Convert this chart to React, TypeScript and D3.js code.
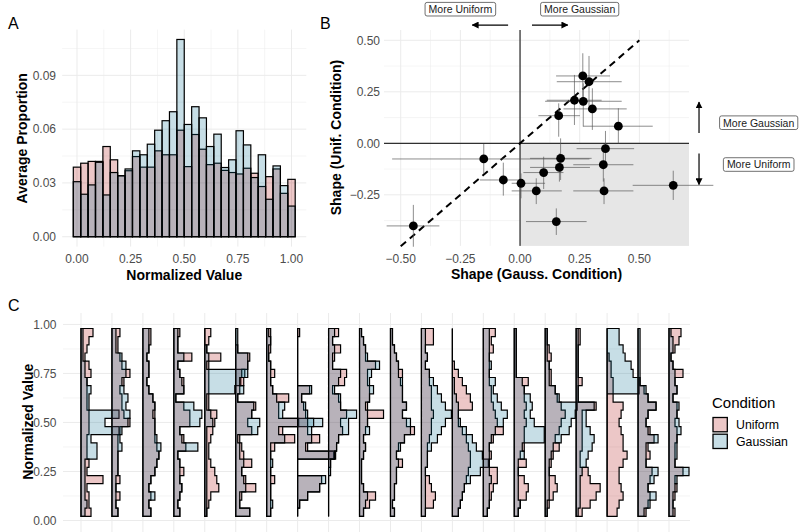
import React from "react";
import * as d3 from "d3";

const FONT = "'Liberation Sans', Arial, Helvetica, sans-serif";

// ---- Panel A: pooled histogram (30 bins centred on 0, 1/29, ..., 1)
const binsA = d3.range(30).map((i) => i / 29);
const uniformA = [
  0.0388, 0.041, 0.042, 0.042, 0.0503, 0.0429, 0.034, 0.0368, 0.0447, 0.0388,
  0.0388, 0.0479, 0.0457, 0.0457, 0.0594, 0.0391, 0.057, 0.0488, 0.0402, 0.041,
  0.037, 0.0358, 0.035, 0.0382, 0.0354, 0.028, 0.0335, 0.0378, 0.0242, 0.032,
];
const gaussianA = [
  0.0307, 0.0237, 0.0289, 0.0415, 0.0233, 0.0358, 0.034, 0.0378, 0.0479, 0.0457,
  0.0516, 0.0594, 0.0647, 0.0697, 0.11, 0.0626, 0.0725, 0.0663, 0.0503, 0.0572,
  0.0386, 0.0429, 0.0591, 0.0512, 0.033, 0.0457, 0.0209, 0.0395, 0.0285, 0.0171,
];

// ---- Panel B: shape estimates per participant with intervals
const gaussShape = [-0.447, -0.152, -0.07, 0.004, 0.068, 0.099, 0.165, 0.17, 0.152, 0.162, 0.228, 0.263, 0.289, 0.265, 0.303, 0.412, 0.358, 0.349, 0.352, 0.642];
const gaussLo = [-0.559, -0.536, -0.168, -0.035, -0.035, 0.014, 0.042, 0.042, 0.025, 0.077, 0.112, 0.151, 0.154, 0.105, 0.182, 0.265, 0.237, 0.223, 0.223, 0.472];
const gaussHi = [-0.338, 0.291, 0.014, 0.105, 0.175, 0.182, 0.293, 0.3, 0.279, 0.251, 0.342, 0.377, 0.426, 0.426, 0.447, 0.556, 0.478, 0.475, 0.475, 0.81];
const unifShape = [-0.401, -0.076, -0.178, -0.194, -0.231, -0.142, -0.117, -0.073, -0.38, 0.134, 0.209, 0.327, 0.299, 0.204, 0.167, 0.083, -0.026, -0.104, -0.231, -0.204];
const unifLo = [-0.502, -0.149, -0.254, -0.267, -0.295, -0.222, -0.186, -0.178, -0.445, 0.032, 0.089, 0.21, 0.178, 0.081, 0.065, 0.0, -0.113, -0.186, -0.295, -0.275];
const unifHi = [-0.299, -0.003, -0.094, -0.146, -0.17, -0.065, -0.049, 0.024, -0.316, 0.194, 0.332, 0.437, 0.424, 0.291, 0.267, 0.17, 0.06, -0.016, -0.17, -0.133];

const xTicksB = [-0.5, -0.25, 0, 0.25, 0.5];
const yTicksB = [-0.25, 0, 0.25, 0.5];

// ---- Panel C: per-participant counts; bins listed from top (23/24) to bottom (1/24)
const binsC = d3.range(23, 0, -1).map((k) => k / 24);
const uniformCounts = [
  [6, 4, 3, 2, 4, 5, 3, 3, 3, 3, 4, 4, 4, 3, 3, 3, 4, 3, 11, 3, 4, 4, 5],
  [4, 3, 3, 4, 5, 9, 6, 4, 5, 5, 6, 9, 4, 3, 3, 3, 3, 3, 4, 2, 4, 2, 3],
  [4, 4, 3, 2, 3, 3, 2, 3, 5, 6, 6, 6, 6, 6, 7, 8, 7, 6, 4, 3, 4, 3, 4],
  [3, 2, 2, 9, 2, 3, 5, 5, 1, 5, 8, 8, 3, 5, 6, 2, 3, 5, 3, 4, 3, 2, 3],
  [3, 2, 1, 8, 2, 2, 2, 2, 2, 2, 6, 5, 4, 3, 2, 2, 3, 5, 6, 7, 3, 2, 1],
  [0, 0, 1, 7, 6, 3, 4, 2, 1, 10, 8, 6, 8, 2, 3, 4, 8, 3, 5, 10, 3, 2, 7],
  [2, 2, 2, 1, 2, 4, 2, 3, 11, 6, 6, 16, 8, 14, 4, 2, 2, 2, 4, 2, 2, 2, 2],
  [1, 0, 0, 0, 0, 0, 0, 6, 2, 3, 4, 5, 5, 11, 5, 18, 0, 0, 12, 11, 5, 1, 0],
  [5, 2, 6, 3, 2, 9, 8, 2, 5, 6, 9, 6, 7, 5, 4, 3, 1, 0, 0, 0, 0, 0, 0],
  [1, 2, 3, 3, 8, 4, 4, 5, 5, 4, 12, 4, 3, 2, 3, 2, 1, 1, 1, 2, 8, 5, 2],
  [1, 1, 2, 3, 4, 6, 5, 6, 6, 8, 6, 8, 12, 7, 4, 3, 6, 3, 3, 2, 2, 1, 2],
  [6, 6, 2, 3, 2, 4, 4, 5, 5, 5, 6, 5, 5, 4, 3, 3, 3, 2, 4, 5, 7, 6, 2],
  [0, 0, 0, 0, 1, 3, 5, 7, 9, 10, 3, 3, 5, 7, 8, 9, 9, 8, 7, 6, 5, 4, 3],
  [6, 4, 5, 3, 3, 3, 3, 4, 4, 5, 6, 7, 10, 5, 3, 4, 3, 7, 7, 5, 4, 3, 2],
  [1, 1, 1, 1, 1, 1, 7, 5, 5, 6, 5, 6, 5, 5, 5, 3, 6, 2, 5, 7, 6, 3, 2],
  [1, 1, 2, 3, 2, 3, 3, 5, 6, 8, 10, 8, 7, 5, 7, 4, 3, 2, 5, 6, 4, 2, 1],
  [2, 2, 1, 1, 1, 1, 3, 1, 1, 10, 3, 3, 3, 3, 3, 2, 2, 6, 7, 12, 10, 7, 3],
  [0, 0, 0, 1, 2, 2, 3, 3, 3, 8, 7, 6, 7, 8, 8, 10, 8, 6, 6, 7, 8, 6, 5],
  [0, 0, 0, 0, 0, 0, 1, 3, 5, 9, 5, 4, 6, 8, 5, 6, 4, 7, 6, 5, 6, 5, 4],
  [6, 5, 3, 1, 2, 7, 3, 4, 2, 4, 4, 3, 4, 4, 3, 3, 3, 7, 3, 4, 3, 2, 3],
];
const gaussianCounts = [
  [1, 1, 1, 1, 2, 2, 3, 5, 4, 4, 19, 12, 19, 5, 8, 8, 2, 2, 2, 2, 2, 3, 2],
  [2, 2, 2, 5, 7, 7, 5, 6, 8, 7, 9, 8, 5, 4, 5, 3, 3, 3, 2, 2, 2, 2, 3],
  [3, 3, 3, 2, 3, 3, 2, 3, 5, 6, 5, 6, 6, 7, 9, 8, 7, 6, 4, 3, 6, 3, 4],
  [2, 2, 2, 5, 2, 3, 4, 5, 1, 10, 14, 13, 3, 4, 12, 2, 3, 3, 3, 4, 3, 2, 3],
  [0, 0, 1, 2, 1, 20, 18, 15, 1, 1, 3, 4, 1, 1, 1, 1, 1, 1, 1, 1, 1, 1, 1],
  [1, 1, 1, 6, 6, 6, 2, 4, 1, 9, 8, 12, 11, 1, 2, 2, 4, 3, 4, 5, 2, 2, 7],
  [1, 2, 1, 1, 2, 2, 2, 3, 5, 9, 8, 28, 6, 9, 2, 2, 3, 2, 2, 2, 2, 3, 2],
  [0, 0, 0, 0, 0, 0, 0, 7, 2, 4, 5, 8, 7, 7, 4, 19, 0, 0, 14, 11, 5, 1, 0],
  [3, 2, 3, 2, 2, 6, 5, 3, 6, 6, 14, 10, 10, 5, 4, 3, 1, 1, 0, 0, 0, 0, 0],
  [1, 2, 3, 4, 10, 6, 5, 7, 5, 3, 4, 4, 5, 2, 3, 2, 1, 1, 1, 2, 4, 3, 2],
  [1, 1, 2, 3, 4, 4, 6, 6, 6, 8, 6, 10, 10, 7, 5, 3, 4, 3, 3, 2, 2, 1, 2],
  [2, 2, 2, 3, 2, 4, 6, 8, 10, 12, 15, 12, 10, 8, 5, 3, 3, 2, 2, 2, 2, 2, 2],
  [0, 0, 0, 0, 0, 0, 1, 1, 2, 3, 3, 4, 7, 10, 12, 15, 18, 14, 9, 6, 5, 4, 3],
  [3, 3, 3, 3, 4, 3, 6, 5, 7, 9, 12, 10, 6, 4, 3, 3, 3, 3, 4, 3, 3, 3, 2],
  [1, 1, 1, 1, 1, 1, 4, 5, 8, 9, 8, 10, 15, 15, 4, 5, 2, 2, 2, 2, 2, 3, 2],
  [1, 1, 1, 1, 2, 2, 2, 5, 7, 16, 15, 13, 12, 8, 4, 3, 2, 2, 2, 2, 2, 1, 1],
  [1, 1, 1, 1, 1, 1, 1, 1, 1, 9, 5, 5, 7, 9, 8, 6, 5, 3, 2, 2, 2, 2, 1],
  [6, 6, 8, 9, 12, 13, 16, 16, 0, 0, 0, 0, 0, 0, 0, 0, 0, 0, 0, 0, 0, 0, 0],
  [1, 1, 1, 1, 1, 1, 1, 4, 5, 9, 5, 4, 5, 10, 4, 4, 4, 10, 8, 5, 9, 6, 3],
  [1, 2, 2, 1, 2, 3, 3, 4, 2, 5, 4, 5, 6, 4, 4, 4, 3, 10, 4, 3, 2, 2, 2],
];

const conditions = ["Uniform", "Gaussian"];
const fillOf: Record<string, string> = { Uniform: "#A80000", Gaussian: "#00688B" };
const ALPHA = 0.22;
const GRID = "#EBEBEB";
const TICK = "#4D4D4D";

// annotation placements in panel B data space
const hArrowY = 0.574;
const vArrowX = 0.75;

const measureText = (() => {
  const ctx = document.createElement("canvas").getContext("2d");
  return (text: string, size: number) => {
    if (!ctx) return text.length * size * 0.55;
    ctx.font = `${size}px ${FONT}`;
    return ctx.measureText(text).width;
  };
})();

function LabelBox({ text, cx, cy }: { text: string; cx: number; cy: number }) {
  const w = measureText(text, 10.5) + 7;
  const h = 13.6;
  return (
    <g>
      <rect x={cx - w / 2} y={cy - h / 2} width={w} height={h} rx={2} fill="white" stroke="#333" strokeWidth={0.7} />
      <text x={cx} y={cy + 3.8} textAnchor="middle" fontSize={10.5} fill="#1a1a1a">
        {text}
      </text>
    </g>
  );
}

function PanelA() {
  const x = d3.scaleLinear().domain([-0.069, 1.069]).range([62.2, 306.3]);
  const y = d3.scaleLinear().domain([-0.0055, 0.1155]).range([246.6, 29.6]);
  const bw = 1 / 29;
  const xMajor = [0, 0.25, 0.5, 0.75, 1];
  const xMinor = [0.125, 0.375, 0.625, 0.875];
  const yMajor = [0, 0.03, 0.06, 0.09];
  const yMinor = [0.015, 0.045, 0.075, 0.105];
  const [x0, x1] = x.range();
  const [y0, y1] = y.range();
  const series: Record<string, number[]> = { Uniform: uniformA, Gaussian: gaussianA };
  return (
    <g>
      {yMinor.map((t) => (
        <line key={"ym" + t} x1={x0} x2={x1} y1={y(t)} y2={y(t)} stroke={GRID} strokeWidth={0.5} />
      ))}
      {xMinor.map((t) => (
        <line key={"xm" + t} x1={x(t)} x2={x(t)} y1={y0} y2={y1} stroke={GRID} strokeWidth={0.5} />
      ))}
      {yMajor.map((t) => (
        <line key={"yM" + t} x1={x0} x2={x1} y1={y(t)} y2={y(t)} stroke={GRID} strokeWidth={1} />
      ))}
      {xMajor.map((t) => (
        <line key={"xM" + t} x1={x(t)} x2={x(t)} y1={y0} y2={y1} stroke={GRID} strokeWidth={1} />
      ))}
      {conditions.map((c) => (
        <g key={c}>
          {binsA.map((b, i) => (
            <rect
              key={i}
              x={x(b - bw / 2)}
              width={x(bw) - x(0)}
              y={y(series[c][i])}
              height={y(0) - y(series[c][i])}
              fill={fillOf[c]}
              fillOpacity={ALPHA}
              stroke="black"
              strokeWidth={1.2}
            />
          ))}
        </g>
      ))}
      {yMajor.map((t) => (
        <text key={"yl" + t} x={56} y={y(t) + 4.3} textAnchor="end" fontSize={12} fill={TICK}>
          {d3.format(".2f")(t)}
        </text>
      ))}
      {xMajor.map((t) => (
        <text key={"xl" + t} x={x(t)} y={263} textAnchor="middle" fontSize={12} fill={TICK}>
          {d3.format(".2f")(t)}
        </text>
      ))}
      <text x={(x0 + x1) / 2} y={279.5} textAnchor="middle" fontSize={14} fontWeight="bold">
        Normalized Value
      </text>
      <text transform={`translate(26.5,138.3) rotate(-90)`} textAnchor="middle" fontSize={14} fontWeight="bold">
        Average Proportion
      </text>
      <text x={8} y={29} fontSize={16}>
        A
      </text>
    </g>
  );
}

function PanelB() {
  const x = d3.scaleLinear().domain([-0.57, 0.708]).range([384, 689]);
  const y = d3.scaleLinear().domain([-0.498, 0.55]).range([245.9, 30]);
  const [x0, x1] = x.range();
  const [y0, y1] = y.range();
  const xMinor = [-0.375, -0.125, 0.125, 0.375, 0.625];
  const yMinor = [-0.375, -0.125, 0.125, 0.375];
  const fmt = (t: number) => d3.format(".2f")(t).replace("-", "\u2212");
  return (
    <g>
      <defs>
        <marker id="arrowHead" viewBox="0 0 10 10" refX={9} refY={5} markerWidth={7} markerHeight={7} markerUnits="userSpaceOnUse" orient="auto">
          <path d="M0,0 L10,5 L0,10 z" fill="black" />
        </marker>
      </defs>
      {yMinor.map((t) => (
        <line key={"ym" + t} x1={x0} x2={x1} y1={y(t)} y2={y(t)} stroke={GRID} strokeWidth={0.5} />
      ))}
      {xMinor.map((t) => (
        <line key={"xm" + t} x1={x(t)} x2={x(t)} y1={y0} y2={y1} stroke={GRID} strokeWidth={0.5} />
      ))}
      {yTicksB.map((t) => (
        <line key={"yM" + t} x1={x0} x2={x1} y1={y(t)} y2={y(t)} stroke={GRID} strokeWidth={1} />
      ))}
      {xTicksB.map((t) => (
        <line key={"xM" + t} x1={x(t)} x2={x(t)} y1={y0} y2={y1} stroke={GRID} strokeWidth={1} />
      ))}
      <rect x={x(0)} y={y(0)} width={x1 - x(0)} height={y0 - y(0)} fill="#E6E6E6" />
      <line x1={x(0)} x2={x(0)} y1={y0} y2={y1} stroke="black" strokeWidth={1} />
      <line x1={x0} x2={x1} y1={y(0)} y2={y(0)} stroke="black" strokeWidth={1} />
      <line x1={x(-0.5)} y1={y(-0.5)} x2={x(0.5)} y2={y(0.5)} stroke="black" strokeWidth={2} strokeDasharray="7 5" />
      {gaussShape.map((g, i) => (
        <g key={"e" + i} stroke="#555" strokeOpacity={0.75} strokeWidth={0.9}>
          <line x1={x(gaussLo[i])} x2={x(gaussHi[i])} y1={y(unifShape[i])} y2={y(unifShape[i])} />
          <line x1={x(g)} x2={x(g)} y1={y(unifLo[i])} y2={y(unifHi[i])} />
        </g>
      ))}
      {gaussShape.map((g, i) => (
        <circle key={"p" + i} cx={x(g)} cy={y(unifShape[i])} r={4.4} fill="black" />
      ))}
      {yTicksB.map((t) => (
        <text key={"yl" + t} x={380} y={y(t) + 4.3} textAnchor="end" fontSize={12} fill={TICK}>
          {fmt(t)}
        </text>
      ))}
      {xTicksB.map((t) => (
        <text key={"xl" + t} x={x(t)} y={262.7} textAnchor="middle" fontSize={12} fill={TICK}>
          {fmt(t)}
        </text>
      ))}
      <text x={(x0 + x1) / 2} y={279} textAnchor="middle" fontSize={14} fontWeight="bold">
        Shape (Gauss. Condition)
      </text>
      <text transform={`translate(341,137.5) rotate(-90)`} textAnchor="middle" fontSize={14} fontWeight="bold">
        Shape (Unif. Condition)
      </text>
      <text x={320} y={28.5} fontSize={16}>
        B
      </text>
      {/* direction annotations */}
      <line x1={x(-0.05)} x2={x(-0.2)} y1={y(hArrowY)} y2={y(hArrowY)} stroke="black" strokeWidth={1.2} markerEnd="url(#arrowHead)" />
      <line x1={x(0.05)} x2={x(0.2)} y1={y(hArrowY)} y2={y(hArrowY)} stroke="black" strokeWidth={1.2} markerEnd="url(#arrowHead)" />
      <line x1={x(vArrowX)} x2={x(vArrowX)} y1={y(0.05)} y2={y(0.2)} stroke="black" strokeWidth={1.2} markerEnd="url(#arrowHead)" />
      <line x1={x(vArrowX)} x2={x(vArrowX)} y1={y(-0.05)} y2={y(-0.2)} stroke="black" strokeWidth={1.2} markerEnd="url(#arrowHead)" />
      <LabelBox text="More Uniform" cx={x(-0.25)} cy={y(0.651)} />
      <LabelBox text="More Gaussian" cx={x(0.25)} cy={y(0.651)} />
      <LabelBox text="More Gaussian" cx={x(1.0)} cy={y(0.1)} />
      <LabelBox text="More Uniform" cx={x(1.0)} cy={y(-0.103)} />
    </g>
  );
}

function PanelC() {
  const col = d3.scaleLinear().domain([0, 19]).range([81, 669]);
  const y = d3.scaleLinear().domain([-0.069, 1.069]).range([534, 310.9]);
  const w = d3.scaleLinear().domain([0, 1]).range([0, 2]);
  const half = 1 / 48;
  const xl = 63;
  const xr = 690;
  const yMajor = [0, 0.25, 0.5, 0.75, 1];
  const yMinor = [0.125, 0.375, 0.625, 0.875];
  const counts: Record<string, number[][]> = { Uniform: uniformCounts, Gaussian: gaussianCounts };
  const line = d3.line<[number, number]>();
  // step outline of one horizontal histogram, closed along its baseline
  const stepPath = (ci: number, values: number[]) => {
    const base = col(ci);
    const pts: [number, number][] = [[base, y(binsC[0] + half)]];
    binsC.forEach((b, j) => {
      pts.push([base + w(values[j]), y(b + half)]);
      pts.push([base + w(values[j]), y(b - half)]);
    });
    pts.push([base, y(binsC[binsC.length - 1] - half)]);
    return line(pts) + "Z";
  };
  return (
    <g>
      {yMinor.map((t) => (
        <line key={"ym" + t} x1={xl} x2={xr} y1={y(t)} y2={y(t)} stroke={GRID} strokeWidth={0.5} />
      ))}
      {yMajor.map((t) => (
        <line key={"yM" + t} x1={xl} x2={xr} y1={y(t)} y2={y(t)} stroke={GRID} strokeWidth={1} />
      ))}
      {uniformCounts.map((_, ci) => (
        <line key={"xg" + ci} x1={col(ci)} x2={col(ci)} y1={313} y2={534} stroke={GRID} strokeWidth={1} />
      ))}
      {uniformCounts.map((_, ci) => (
        <g key={"c" + ci}>
          {conditions.map((c) => (
            <path
              key={c}
              d={stepPath(ci, counts[c][ci])}
              fill={fillOf[c]}
              fillOpacity={ALPHA}
              stroke="black"
              strokeWidth={1.2}
              strokeLinejoin="miter"
            />
          ))}
        </g>
      ))}
      {yMajor.map((t) => (
        <text key={"yl" + t} x={56.5} y={y(t) + 4.3} textAnchor="end" fontSize={12} fill={TICK}>
          {d3.format(".2f")(t)}
        </text>
      ))}
      <text transform={`translate(33.3,421.7) rotate(-90)`} textAnchor="middle" fontSize={14} fontWeight="bold">
        Normalized Value
      </text>
      <text x={8} y={310.7} fontSize={16}>
        C
      </text>
      {/* legend */}
      <text x={712} y={407.5} fontSize={15}>
        Condition
      </text>
      {conditions.map((c, i) => (
        <g key={"lg" + c}>
          <rect x={713} y={417.5 + i * 16.7} width={14.3} height={14.3} fill={fillOf[c]} fillOpacity={ALPHA} stroke="black" strokeWidth={1.3} />
          <text x={736} y={429.3 + i * 16.7} fontSize={12.3}>
            {c}
          </text>
        </g>
      ))}
    </g>
  );
}

export default function App() {
  return (
    <div style={{ position: "absolute", left: 0, top: 0 }}>
      <svg width={800} height={532} viewBox="0 0 800 532" style={{ display: "block", fontFamily: FONT, background: "white" }}>
        <rect width={800} height={532} fill="white" />
        <PanelA />
        <PanelB />
        <PanelC />
      </svg>
    </div>
  );
}
